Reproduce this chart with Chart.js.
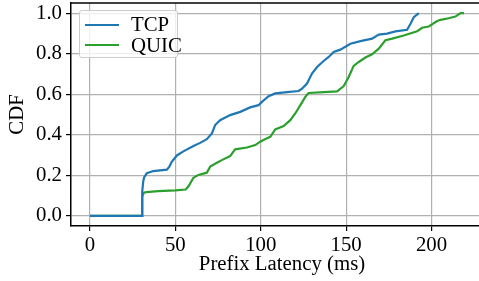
<!DOCTYPE html>
<html>
<head>
<meta charset="utf-8">
<script src="https://cdn.jsdelivr.net/npm/chart.js@4.4.1/dist/chart.umd.min.js"></script>
<style>
  html, body { margin: 0; padding: 0; overflow: hidden; background: #fff; width: 479px; height: 281px; }
  #wrap { position: relative; width: 493px; height: 281px; }
  #legend { position: absolute; left: 79px; top: 10px; width: 97px; height: 46px;
    border: 1px solid #cccccc; border-radius: 3px; background: rgba(255,255,255,0.8);
    font-family: 'Liberation Serif', 'Times New Roman', serif; font-size: 20.8px; color: #000; }
  #legend .ln { position: absolute; left: 5px; width: 34px; height: 2.2px; }
  #legend .tx { position: absolute; left: 51px; line-height: 23px; white-space: nowrap; }
</style>
</head>
<body>
<div id="wrap">
  <canvas id="c" width="493" height="281"></canvas>
  <div id="legend"></div>
</div>
<script>
// ---- data ----
const tcpLatency = [0, 30.5, 30.6, 31.2, 31.7, 33.3, 37.1, 45, 46.5, 47.9, 50.9, 54.7, 60.6, 64.5, 68.4, 71.4, 73.3, 76.2, 82.1, 88, 93.8, 98.7, 100.7, 104.6, 108.5, 115.4, 122.2, 124.2, 127.1, 130.0, 133, 136.8, 139.8, 142.7, 146.6, 152.5, 158.4, 165.2, 169.1, 174, 178.9, 185.7, 187.7, 189.6, 192.6];
const tcpCdf     = [0, 0, 0.12, 0.17, 0.19, 0.21, 0.221, 0.228, 0.243, 0.267, 0.298, 0.318, 0.345, 0.36, 0.378, 0.407, 0.448, 0.472, 0.497, 0.513, 0.535, 0.546, 0.562, 0.590, 0.604, 0.610, 0.616, 0.628, 0.653, 0.702, 0.734, 0.764, 0.784, 0.808, 0.820, 0.849, 0.862, 0.874, 0.894, 0.899, 0.910, 0.918, 0.948, 0.980, 1.0];

const quicLatency = [0, 30.5, 30.6, 31.5, 33, 40, 50, 56, 57.7, 60.6, 63.5, 68.4, 70.4, 74.3, 77.2, 82.1, 85, 91.9, 96.8, 99.7, 103, 105.6, 108.5, 113.4, 117.3, 120.2, 123.2, 126.1, 128, 137, 144.7, 148.6, 151.5, 154.4, 157.4, 161.3, 165.2, 169.1, 173, 177, 183.7, 191.6, 194.5, 198.4, 203.3, 205.3, 210, 214, 217, 219];
const quicCdf     = [0, 0, 0.095, 0.114, 0.117, 0.122, 0.126, 0.130, 0.146, 0.188, 0.202, 0.213, 0.243, 0.262, 0.275, 0.295, 0.328, 0.337, 0.349, 0.366, 0.38, 0.390, 0.426, 0.443, 0.472, 0.505, 0.546, 0.587, 0.606, 0.610, 0.614, 0.640, 0.685, 0.74, 0.759, 0.781, 0.797, 0.825, 0.866, 0.874, 0.890, 0.911, 0.928, 0.934, 0.961, 0.967, 0.975, 0.983, 1.0, 1.0];

const seriesNames = ['TCP', 'QUIC'];
const seriesColors = ['#1f77b4', '#2ca02c'];
const xTicks = [0, 50, 100, 150, 200];
const yTicks = [0, 0.2, 0.4, 0.6, 0.8, 1.0];
const xTitle = 'Prefix Latency (ms)';
const yTitle = 'CDF';

const toPoints = (xs, ys) => xs.map((x, i) => ({ x: x, y: ys[i] }));
const FONT = { family: "'Liberation Serif', 'Times New Roman', serif", size: 20.8 };

const topSpine = {
  id: 'topSpine',
  afterDatasetsDraw(chart) {
    const { ctx, chartArea } = chart;
    ctx.save();
    ctx.strokeStyle = '#000';
    ctx.lineWidth = 1.5;
    ctx.beginPath();
    ctx.moveTo(chartArea.left - 0.75, chartArea.top);
    ctx.lineTo(chartArea.right, chartArea.top);
    ctx.stroke();
    ctx.restore();
  }
};

const chart = new Chart(document.getElementById('c'), {
  type: 'line',
  data: {
    datasets: [
      { label: seriesNames[0], data: toPoints(tcpLatency, tcpCdf), borderColor: seriesColors[0], backgroundColor: seriesColors[0], borderWidth: 2.2, pointRadius: 0, tension: 0, fill: false },
      { label: seriesNames[1], data: toPoints(quicLatency, quicCdf), borderColor: seriesColors[1], backgroundColor: seriesColors[1], borderWidth: 2.2, pointRadius: 0, tension: 0, fill: false }
    ]
  },
  options: {
    responsive: false,
    animation: false,
    devicePixelRatio: 1,
    layout: { padding: { top: 3, left: 0, right: 0, bottom: 0 } },
    plugins: { legend: { display: false }, tooltip: { enabled: false } },
    scales: {
      x: {
        type: 'linear', min: -11.1, max: 236,
        afterBuildTicks: s => { s.ticks = xTicks.map(v => ({ value: v })); },
        afterFit: s => { s.height = 55; s.paddingLeft = 0; s.paddingRight = 0; },
        ticks: { font: FONT, color: '#000', padding: 2, maxRotation: 0, autoSkip: false, callback: v => String(v) },
        grid: { color: '#b0b0b0', lineWidth: 1.2, tickColor: '#000', tickLength: 5, tickWidth: 1.2 },
        border: { color: '#000', width: 1.5 },
        title: { display: true, text: xTitle, font: FONT, color: '#000', padding: { top: 0, bottom: 4 } }
      },
      y: {
        type: 'linear', min: -0.05, max: 1.05,
        afterBuildTicks: s => { s.ticks = yTicks.map(v => ({ value: v })); },
        afterFit: s => { s.width = 71; s.paddingTop = 0; s.paddingBottom = 0; },
        ticks: { font: FONT, color: '#000', padding: 4, autoSkip: false, callback: v => Number(v).toFixed(1) },
        grid: { color: '#b0b0b0', lineWidth: 1.2, tickColor: '#000', tickLength: 5, tickWidth: 1.2 },
        border: { color: '#000', width: 1.5 },
        title: { display: true, text: yTitle, font: FONT, color: '#000', padding: { top: 5.5, bottom: 0 } }
      }
    }
  },
  plugins: [topSpine]
});

// legend built from the datasets
const legend = document.getElementById('legend');
chart.data.datasets.forEach((ds, i) => {
  const ln = document.createElement('div');
  ln.className = 'ln';
  ln.style.background = ds.borderColor;
  ln.style.top = (12.9 + i * 20) + 'px';
  legend.appendChild(ln);
  const tx = document.createElement('div');
  tx.className = 'tx';
  tx.style.top = (1.2 + i * 21) + 'px';
  tx.textContent = ds.label;
  legend.appendChild(tx);
});
</script>
</body>
</html>
